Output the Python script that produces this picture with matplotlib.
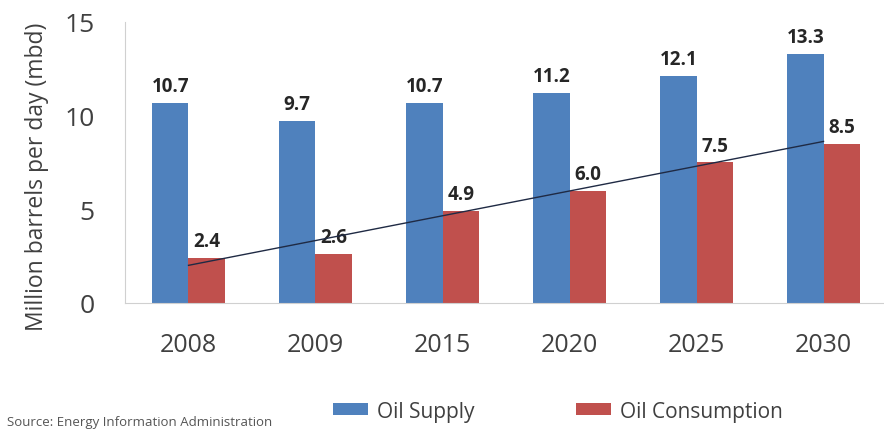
import matplotlib
matplotlib.use("Agg")
import matplotlib.pyplot as plt
import numpy as np

plt.rcParams['font.family'] = ['Open Sans', 'DejaVu Sans']

years = ['2008', '2009', '2015', '2020', '2025', '2030']
oil_supply = [10.7, 9.7, 10.7, 11.2, 12.1, 13.3]
oil_consumption = [2.4, 2.6, 4.9, 6.0, 7.5, 8.5]

BLUE = '#4F81BD'
RED = '#C0504D'
TEXT = '#404040'

fig = plt.figure(figsize=(8.84, 4.31), dpi=100)
ax = fig.add_axes([0.1414, 0.2947, 0.862, 0.652])

x = np.arange(len(years))
w = 0.287
b1 = ax.bar(x - w/2, oil_supply, w, color=BLUE, label='Oil Supply')
b2 = ax.bar(x + w/2, oil_consumption, w, color=RED, label='Oil Consumption')

# value labels on top of each bar
for bars, vals in ((b1, oil_supply), (b2, oil_consumption)):
    for rect, v in zip(bars, vals):
        ax.annotate('%.1f' % v, (rect.get_x() + rect.get_width()/2, v),
                    xytext=(0, 5), textcoords='offset points',
                    ha='center', va='bottom', fontsize=13.5,
                    fontweight='bold', color='#262626')

# linear trend of consumption
coef = np.polyfit(x, oil_consumption, 1)
ax.plot(x, np.polyval(coef, x), color='#1F2A44', lw=1.0, zorder=3)

ax.set_xlim(-0.5, len(years) - 0.5)
ax.set_ylim(0, 15)
ax.set_yticks([0, 5, 10, 15])
ax.set_xticks(x)
ax.set_xticklabels(years)
ax.tick_params(axis='y', length=0, pad=22, labelsize=19, labelcolor=TEXT)
ax.tick_params(axis='x', length=0, pad=21, labelsize=18, labelcolor=TEXT)

for s in ('top', 'right'):
    ax.spines[s].set_visible(False)
ax.spines['left'].set_color('#D0D0D0')
ax.spines['bottom'].set_color('#D0D0D0')

fig.text(0.042, 0.589, 'Million barrels per day (mbd)', rotation=90,
         ha='center', va='center', fontsize=16.5, color=TEXT)

fig.legend(handles=[b1, b2], loc='center', bbox_to_anchor=(0.631, 0.044),
           ncol=2, frameon=False, fontsize=15, handlelength=1.68,
           handleheight=0.48, columnspacing=4.85, handletextpad=0.43,
           labelcolor=TEXT)

fig.text(0.008, 0.019, 'Source: Energy Information Administration',
         ha='left', va='center', fontsize=9.5, color='#555555')

fig.savefig('out.png', dpi=100)
